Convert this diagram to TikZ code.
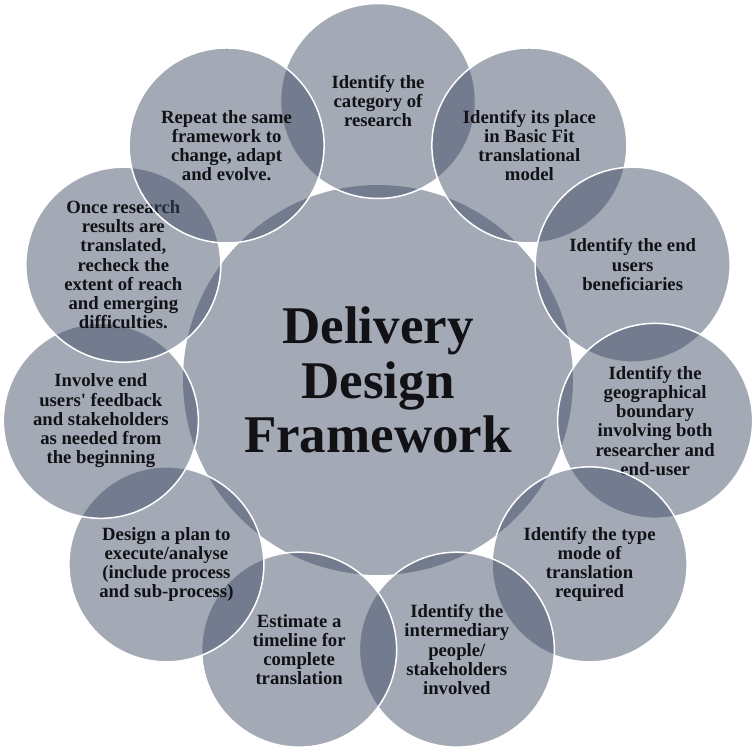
\documentclass[tikz,border=0pt]{standalone}
\usepackage{fontspec}
\setmainfont{Liberation Serif}[Ligatures=TeXOff]
\definecolor{circfill}{RGB}{59,74,98}
\definecolor{txt}{RGB}{18,18,22}
\begin{document}
\begin{tikzpicture}[x=1pt,y=-1pt,
  hub/.style={circle, minimum size=390pt, inner sep=0pt, fill=circfill, fill opacity=0.47,
    text opacity=1, text=txt, align=center, font=\fontsize{53}{54.5}\selectfont\bfseries},
  petal/.style={circle, minimum size=195pt, inner sep=0pt, fill=circfill, fill opacity=0.47,
    draw=white, draw opacity=1, line width=1.5pt, text opacity=1, text=txt, align=center,
    font=\fontsize{18.7}{19.2}\selectfont\bfseries}]
\useasboundingbox (0,0) rectangle (756,750);
\node[hub] (hub) at (378,380) {Delivery\\Design\\Framework};
\node[petal] (p1) at ({378+280*cos(90)},{381-280*sin(90)}) {Identify the\\category of\\research};
\node[petal] (p2) at ({378+280*cos(57.27)},{381-280*sin(57.27)}) {Identify its place\\in Basic Fit\\translational\\model};
\node[petal] (p3) at ({378+280*cos(24.55)},{381-280*sin(24.55)}) {Identify the end\\users\\beneficiaries};
\node[petal] (p4) at ({378+280*cos(-8.18)},{381-280*sin(-8.18)}) {Identify the\\geographical\\boundary\\involving both\\researcher and\\end-user};
\node[petal] (p5) at ({378+280*cos(-40.91)},{381-280*sin(-40.91)}) {Identify the type\\mode of\\translation\\required};
\node[petal] (p6) at ({378+280*cos(-73.64)},{381-280*sin(-73.64)}) {Identify the\\intermediary\\people/\\stakeholders\\involved};
\node[petal] (p7) at ({378+280*cos(-106.36)},{381-280*sin(-106.36)}) {Estimate a\\timeline for\\complete\\translation};
\node[petal] (p8) at ({378+280*cos(-139.09)},{381-280*sin(-139.09)}) {Design a plan to\\execute/analyse\\(include process\\and sub-process)};
\node[petal] (p9) at ({378+280*cos(-171.82)},{381-280*sin(-171.82)}) {Involve end\\users' feedback\\and stakeholders\\as needed from\\the beginning};
\node[petal] (p10) at ({378+280*cos(155.45)},{381-280*sin(155.45)}) {Once research\\results are\\translated,\\recheck the\\extent of reach\\and emerging\\difficulties.};
\node[petal] (p11) at ({378+280*cos(122.73)},{381-280*sin(122.73)}) {Repeat the same\\framework to\\change, adapt\\and evolve.};
\end{tikzpicture}
\end{document}
